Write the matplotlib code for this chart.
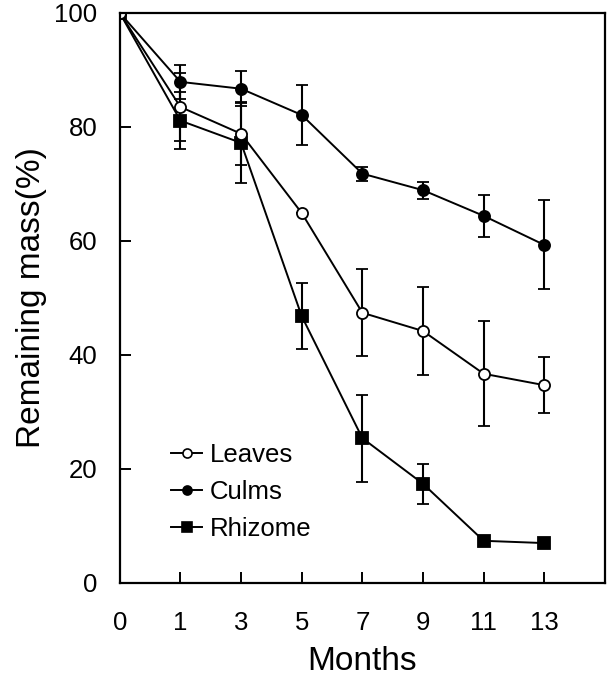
import matplotlib
matplotlib.use("Agg")
import matplotlib.pyplot as plt
from matplotlib.lines import Line2D

plt.rcParams['font.family'] = ['Liberation Sans', 'DejaVu Sans']

months = ['0', '1', '3', '5', '7', '9', '11', '13']

leaves = [100, 83.5, 78.8, 64.9, 47.4, 44.2, 36.7, 34.7]
leaves_err = [0, 6.0, 5.5, 0, 7.6, 7.7, 9.2, 4.9]

culms = [100, 87.9, 86.7, 82.1, 71.8, 68.9, 64.4, 59.3]
culms_err = [0, 3.0, 3.1, 5.3, 1.2, 1.5, 3.7, 7.8]

rhizome = [100, 81.1, 77.2, 46.8, 25.4, 17.4, 7.4, 7.0]
rhizome_err = [0, 5.0, 7.0, 5.8, 7.6, 3.5, 0, 0]

fig = plt.figure(figsize=(6.08, 6.79), dpi=100)
ax = fig.add_axes([0.197, 0.1414, 0.798, 0.8396])

x = list(range(len(months)))
common = dict(color='black', lw=1.4, ms=8, elinewidth=1.5, capsize=4, capthick=1.5, mew=1.3)
ax.errorbar(x, rhizome, yerr=rhizome_err, fmt='-s', mfc='black', **common)
ax.errorbar(x, culms, yerr=culms_err, fmt='-o', mfc='black', **common)
ax.errorbar(x, leaves, yerr=leaves_err, fmt='-o', mfc='white', **common)

ax.set_xlim(0, 8)
ax.set_ylim(0, 100)
ax.set_xticks(x)
ax.set_xticklabels(months)
ax.set_yticks([0, 20, 40, 60, 80, 100])
ax.tick_params(axis='both', direction='in', length=8, width=1.4, labelsize=18.5)
ax.tick_params(axis='x', pad=20)
ax.tick_params(axis='y', pad=16)
for s in ax.spines.values():
    s.set_linewidth(1.6)

ax.set_xlabel('Months', fontsize=24, labelpad=8)
ax.set_ylabel('Remaining mass(%)', fontsize=24, labelpad=5)

handles = [
    Line2D([], [], color='black', lw=1.4, marker='o', ms=6.5, mfc='white', mew=1.2),
    Line2D([], [], color='black', lw=1.4, marker='o', ms=6.5, mfc='black', mew=1.2),
    Line2D([], [], color='black', lw=1.4, marker='s', ms=6.5, mfc='black', mew=1.2),
]
ax.legend(handles, ['Leaves', 'Culms', 'Rhizome'],
          loc='lower left', bbox_to_anchor=(0.085, 0.055), frameon=False,
          fontsize=18.5, handlelength=1.2, handletextpad=0.3, labelspacing=0.52,
          borderaxespad=0)

fig.savefig('out.png', dpi=100)
